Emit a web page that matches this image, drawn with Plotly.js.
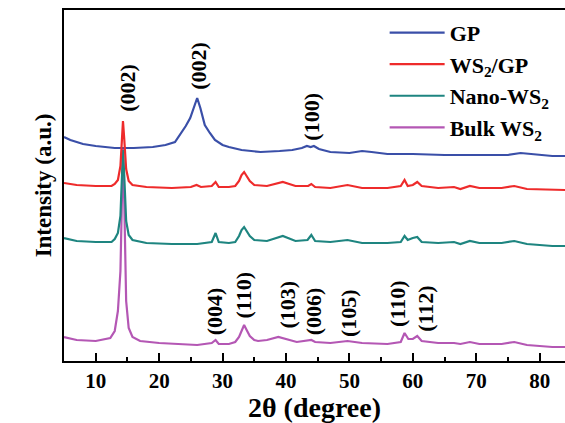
<!DOCTYPE html>
<html>
<head>
<meta charset="utf-8">
<script src="https://cdn.plot.ly/plotly-3.0.1.min.js"></script>
<style>html,body{margin:0;padding:0;background:#fff;}#chart{width:565px;height:423px;}</style>
</head>
<body>
<div id="chart"></div>
<script>
// ---- data (2θ in degrees, intensity in arbitrary units, stacked offsets as in the figure) ----
const seriesNames = ["GP", "WS<sub>2</sub>/GP", "Nano-WS<sub>2</sub>", "Bulk WS<sub>2</sub>"];

const gpX = [5,6,8,10,13,16,19,21,22.5,23.3,24.2,24.9,25.5,26.0,26.5,27.2,28.0,28.8,30,31,33,36,39,41,42.5,43.3,43.9,44.4,45.2,47,50,52,53.5,56,60,65,70,75,77,79,82,84];
const gpY = [224,221,217,215,213,213,214,216,219,226,235,243,255,263,253,236,228,221,216,214,211,209,210,211,213,215,214,215,212,209,208,210,209,207,207,206,206,206,208,207,205,205];

const wsgpX = [5,7,10,12.5,13.0,13.5,13.9,14.1,14.3,14.5,14.8,15.2,15.8,18,22,25,25.9,26.6,28.3,28.9,29.4,31,32.0,32.6,33.0,33.4,33.8,34.3,35,37,39.5,41.5,43.5,44,44.6,47,49.7,52,56,58.1,58.7,59.2,60.0,60.7,61.4,64,66.5,67.5,69,70.5,74,76,78,82,84];
const wsgpY = [178,176,175,175,177,181,195,225,240,222,192,180,176,174,173,174,176,174,175,179,174,174,175,180,186,189,185,180,176,175,179,175,175,177,174,173,176,173,173,175,181,175,176,179,175,173,174,172,175,173,173,175,172,171,171];

const nanoX = [5,7,10,12.5,13.0,13.5,13.9,14.1,14.3,14.5,14.8,15.2,15.8,18,22,26,28.3,28.9,29.4,31,32.0,32.6,33.0,33.4,33.8,34.3,35,37,39.5,41.5,43.4,44,44.6,47,49.7,52,56,58.1,58.7,59.2,60.0,60.7,61.4,64,66.5,67.5,69,70.5,74,76,78,82,84];
const nanoY = [123,120,119,119,122,128,145,185,211,185,140,126,121,118,117,117,119,128,119,118,119,125,131,134,130,125,121,120,125,120,121,126,120,119,121,118,118,119,125,121,123,124,119,118,119,117,120,118,118,120,117,115,115];

const bulkX = [5,7,10,12.3,13.0,13.5,13.9,14.1,14.3,14.5,14.8,15.2,15.8,17,20,26,28.3,28.9,29.4,31,32.0,32.6,33.0,33.4,33.8,34.3,35,35.6,37,38.8,41.7,43.5,44,44.6,47,49.7,52,56,58.1,58.7,59.3,60.0,60.7,61.4,64,66.5,67.5,69,70.5,74,76,78,82,84];
const bulkY = [24,21,20,23,30,50,90,160,213,160,60,33,24,20,18,16,18,21,17,17,19,24,31,36,31,25,21,20,21,24,19,20,21,19,18,20,18,17,19,28,22,22,25,20,18,18,17,19,17,17,19,16,14,14];

// peak labels: [text, 2θ, intensity position]
const peakLabels = [
  ["(002)", 14.9, 273], ["(002)", 26.1, 295], ["(100)", 43.9, 244],
  ["(004)", 28.7, 50], ["(110)", 33.3, 66], ["(103)", 40.1, 56], ["(006)", 44.3, 50],
  ["(105)", 49.8, 48], ["(110)", 57.5, 57], ["(112)", 61.9, 52]
];

const colors = {gp: "#3a4fa8", wsgp: "#ee2b2b", nano: "#1e8580", bulk: "#b457b4"};
const serif = "Liberation Serif, Times New Roman, serif";

function tr(x, y, name, color, rank) {
  return {type: "scatter", mode: "lines", x: x, y: y, name: name, legendrank: rank,
          line: {color: color, width: 2.2}};
}
const data = [
  tr(bulkX, bulkY, seriesNames[3], colors.bulk, 4),
  tr(nanoX, nanoY, seriesNames[2], colors.nano, 3),
  tr(gpX, gpY, seriesNames[0], colors.gp, 1),
  tr(wsgpX, wsgpY, seriesNames[1], colors.wsgp, 2)
];

const annotations = peakLabels.map(p => ({
  text: p[0], x: p[1], y: p[2], xref: "x", yref: "y", showarrow: false, textangle: -90,
  xanchor: "center", yanchor: "middle", font: {family: serif, size: 22, color: "#000", weight: "bold"}
}));

const layout = {
  width: 565, height: 423,
  margin: {l: 64, r: 0, t: 10, b: 62},
  paper_bgcolor: "#fff", plot_bgcolor: "#fff",
  showlegend: true,
  legend: {x: 0.64, y: 0.995, xanchor: "left", yanchor: "top", bgcolor: "rgba(0,0,0,0)",
           itemwidth: 55,
           font: {family: serif, size: 22, color: "#000", weight: "bold"}, tracegroupgap: 0},
  xaxis: {range: [5, 84], showline: true, linecolor: "#000", linewidth: 2, mirror: true,
          showgrid: false, zeroline: false, ticks: "inside", ticklen: 8, tickwidth: 2, tickcolor: "#000",
          dtick: 10, tick0: 0,
          minor: {ticks: "inside", ticklen: 4, tickwidth: 2, tickcolor: "#000", dtick: 5, tick0: 0, showgrid: false},
          tickfont: {family: serif, size: 21, color: "#000", weight: "bold"},
          title: {text: "2θ (degree)", standoff: 6, font: {family: serif, size: 28, color: "#000", weight: "bold"}}},
  yaxis: {range: [0, 351], showline: true, linecolor: "#000", linewidth: 2, mirror: true,
          showgrid: false, zeroline: false, ticks: "", showticklabels: false,
          title: {text: "Intensity (a.u.)", standoff: 4, font: {family: serif, size: 23, color: "#000", weight: "bold"}}},
  annotations: annotations
};

Plotly.newPlot("chart", data, layout, {displayModeBar: false, staticPlot: true});
</script>
</body>
</html>
